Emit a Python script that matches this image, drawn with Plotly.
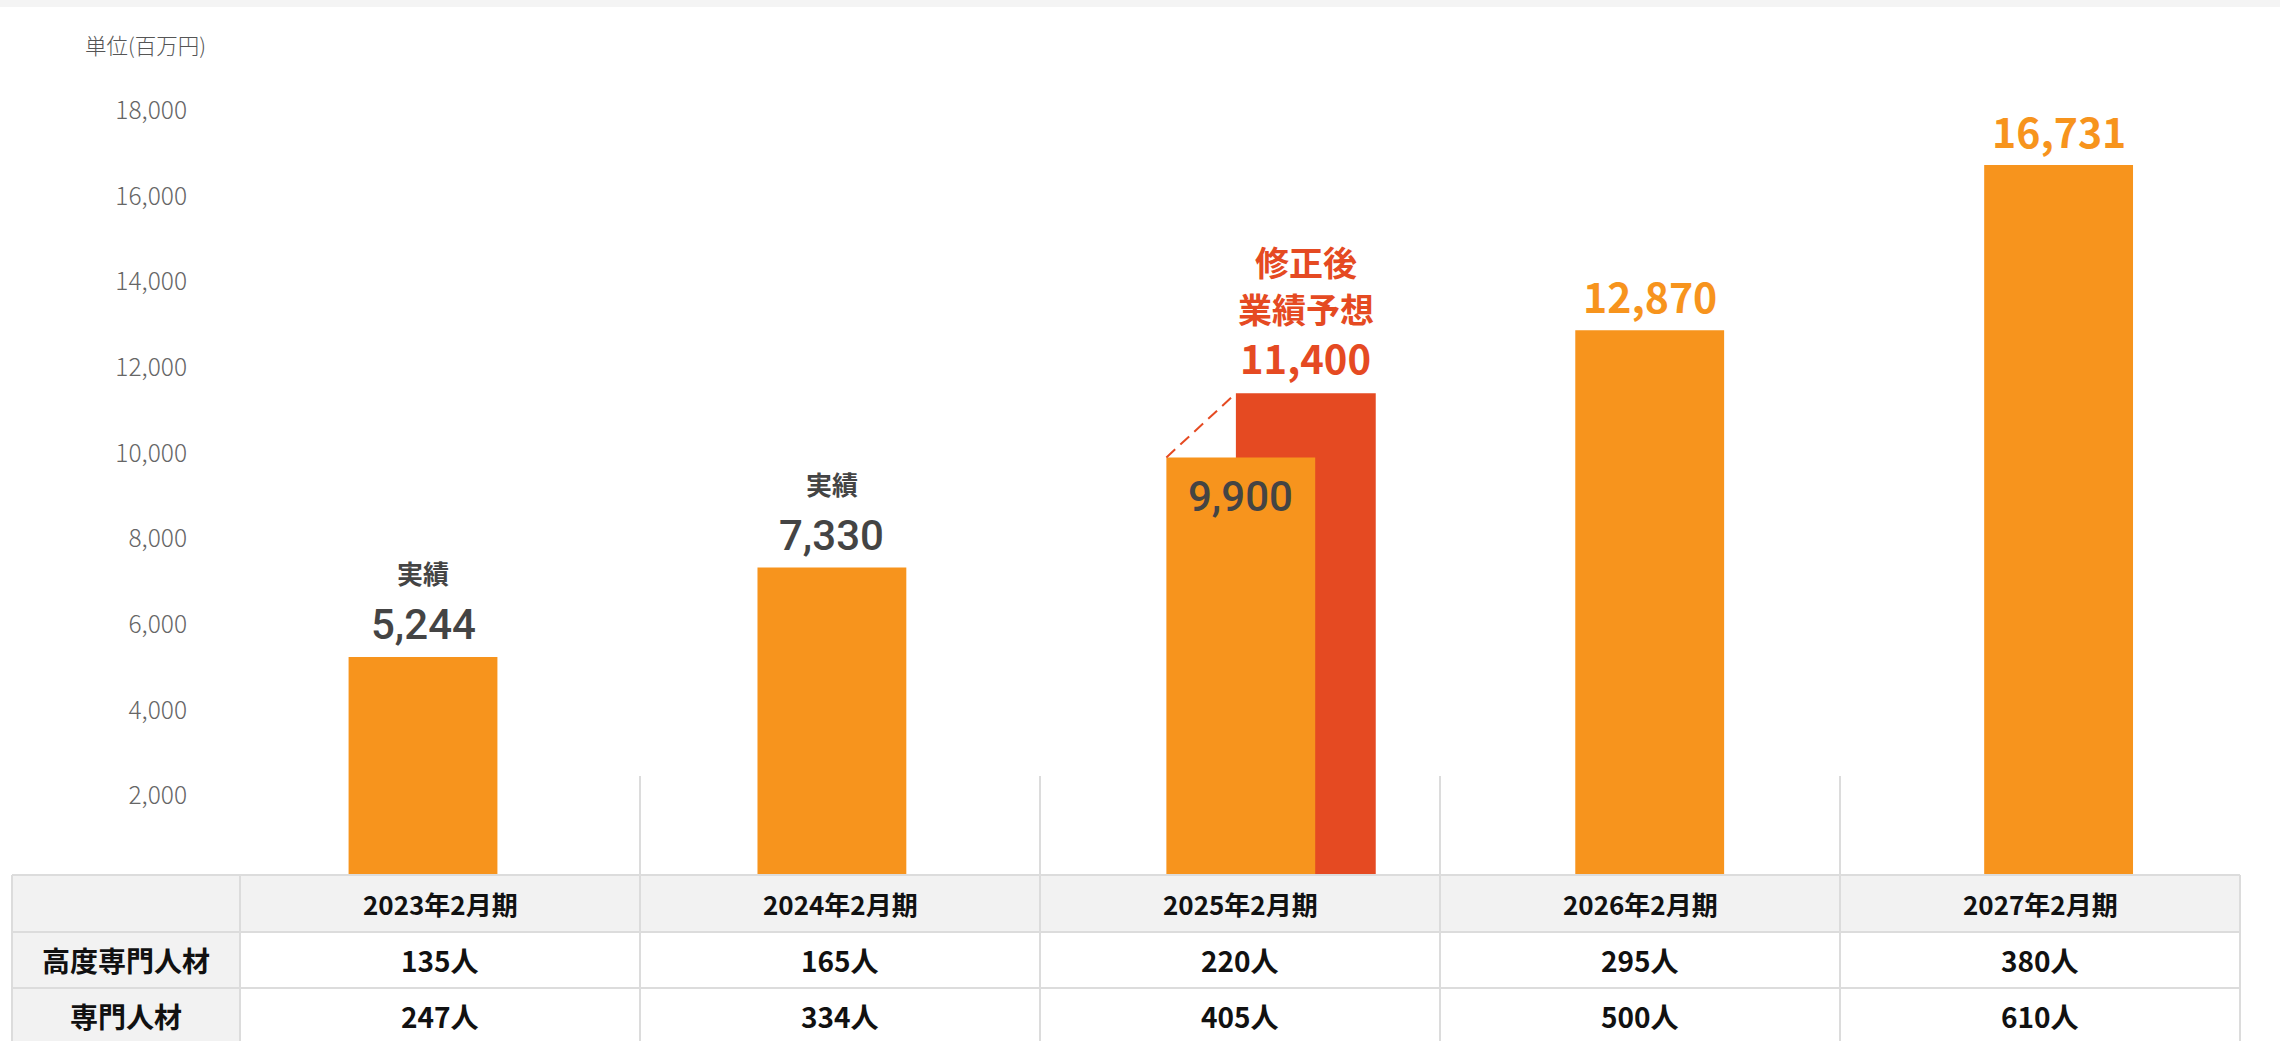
import plotly.graph_objects as go

# ---------------- data ----------------
categories = ["2023年2月期", "2024年2月期", "2025年2月期", "2026年2月期", "2027年2月期"]
revenue = [5244, 7330, 9900, 12870, 16731]
revised_category = "2025年2月期"
revised_value = 11400
status_labels = ["実績", "実績", "", "", ""]
revised_label_lines = ["修正後", "業績予想"]
row_labels = ["高度専門人材", "専門人材"]
high_spec_staff = [135, 165, 220, 295, 380]
spec_staff = [247, 334, 405, 500, 610]
y_ticks = [2000, 4000, 6000, 8000, 10000, 12000, 14000, 16000, 18000]
unit_label = "単位(百万円)"

# ---------------- style ----------------
W, H = 2280, 1041
ORANGE = "#F7941D"
RED = "#E54A22"
DARK = "#444444"
GRID = "#DCDCDC"
HEAD_BG = "#F2F2F2"
FONT = "Noto Sans CJK JP"
NUM_FONT = "Roboto"

BAR_W = 0.364
RED_W = 0.342
RED_SHIFT = 0.159

def X(p):
    return p / W

def Y(p):
    return 1 - p / H

xs = list(range(len(categories)))
ri = categories.index(revised_category)

fig = go.Figure()

# revised forecast bar (behind)
fig.add_trace(go.Bar(
    x=[ri + RED_SHIFT], y=[revised_value], width=[RED_W],
    marker=dict(color=RED, line=dict(width=0)), hoverinfo="skip", showlegend=False,
))
# main bars
fig.add_trace(go.Bar(
    x=xs, y=revenue, width=[BAR_W] * len(xs),
    marker=dict(color=ORANGE, line=dict(width=0)), hoverinfo="skip", showlegend=False,
))
# dashed connector between the original and revised forecast
fig.add_trace(go.Scatter(
    x=[ri - BAR_W / 2, ri + RED_SHIFT - RED_W / 2],
    y=[revenue[ri], revised_value],
    mode="lines", line=dict(color=RED, width=2, dash="12px,7px"),
    hoverinfo="skip", showlegend=False,
))

ann = []
for i, v in enumerate(revenue):
    if i == ri:
        ann.append(dict(x=i, y=v, xref="x", yref="y", text=f"{v:,}", showarrow=False,
                        yanchor="middle", yshift=-39,
                        font=dict(family=NUM_FONT, size=42, color=DARK, weight=500)))
    elif i < ri:
        ann.append(dict(x=i, y=v, xref="x", yref="y", text=f"{v:,}", showarrow=False,
                        yanchor="middle", yshift=32,
                        font=dict(family=NUM_FONT, size=42, color=DARK, weight=500)))
    else:
        ann.append(dict(x=i, y=v, xref="x", yref="y", text=f"{v:,}", showarrow=False,
                        yanchor="middle", yshift=35,
                        font=dict(family=FONT, size=41, color=ORANGE, weight="bold")))
    if status_labels[i]:
        ann.append(dict(x=i, y=v, xref="x", yref="y", text=status_labels[i], showarrow=False,
                        yanchor="middle", yshift=84,
                        font=dict(family=FONT, size=26, color=DARK, weight="bold")))

# revised forecast label: value plus two caption lines
ann.append(dict(x=ri + RED_SHIFT, y=revised_value, xref="x", yref="y", text=f"{revised_value:,}",
                showarrow=False, yanchor="middle", yshift=36, borderpad=0,
                font=dict(family=FONT, size=40, color=RED, weight="bold")))
for k, line in enumerate(revised_label_lines):
    ann.append(dict(x=ri + RED_SHIFT, y=revised_value, xref="x", yref="y", text=line,
                    showarrow=False, yanchor="middle", yshift=132 - 47 * k, borderpad=0,
                    font=dict(family=FONT, size=34, color=RED, weight="bold")))

ann.append(dict(x=X(145), y=Y(44), xref="paper", yref="paper", text=unit_label, showarrow=False,
                xanchor="center", yanchor="middle",
                font=dict(family=FONT, size=21.5, color="#555555", weight=300)))

# ---------------- table ----------------
col_x = [12, 240, 640, 1040, 1440, 1840, 2240]
row_y = [875, 932, 988, 1044]
shapes = []
shapes.append(dict(type="rect", xref="paper", yref="paper", x0=0, x1=1, y0=Y(7), y1=1,
                   fillcolor="#F4F4F4", line=dict(width=0), layer="above"))
shapes.append(dict(type="rect", xref="paper", yref="paper", x0=X(col_x[0]), x1=X(col_x[-1]),
                   y0=Y(row_y[1]), y1=Y(row_y[0]), fillcolor=HEAD_BG, line=dict(width=0), layer="above"))
shapes.append(dict(type="rect", xref="paper", yref="paper", x0=X(col_x[1]), x1=X(col_x[-1]),
                   y0=Y(row_y[-1]), y1=Y(row_y[1]), fillcolor="white", line=dict(width=0), layer="above"))
shapes.append(dict(type="rect", xref="paper", yref="paper", x0=X(col_x[0]), x1=X(col_x[1]),
                   y0=Y(row_y[-1]), y1=Y(row_y[1]), fillcolor=HEAD_BG, line=dict(width=0), layer="above"))
for yy in row_y:
    shapes.append(dict(type="line", xref="paper", yref="paper", x0=X(col_x[0]), x1=X(col_x[-1]),
                       y0=Y(yy), y1=Y(yy), line=dict(color=GRID, width=2), layer="above"))
for xx in col_x:
    shapes.append(dict(type="line", xref="paper", yref="paper", x0=X(xx), x1=X(xx),
                       y0=Y(row_y[-1]), y1=Y(row_y[0]), line=dict(color=GRID, width=2), layer="above"))
for xx in col_x[2:-1]:
    shapes.append(dict(type="line", xref="paper", yref="paper", x0=X(xx), x1=X(xx),
                       y0=Y(row_y[0]), y1=Y(776), line=dict(color=GRID, width=2), layer="above"))

def cell_center(c, r):
    return X((col_x[c] + col_x[c + 1]) / 2), Y((row_y[r] + row_y[r + 1]) / 2)

for j, cat in enumerate(categories):
    cx, cy = cell_center(j + 1, 0)
    ann.append(dict(x=cx, y=cy, xref="paper", yref="paper", text=cat, showarrow=False,
                    xanchor="center", yanchor="middle",
                    font=dict(family=FONT, size=26, color="#111111", weight="bold")))
for r, (lab, vals) in enumerate(zip(row_labels, [high_spec_staff, spec_staff])):
    cx, cy = cell_center(0, r + 1)
    ann.append(dict(x=cx, y=cy, xref="paper", yref="paper", text=lab, showarrow=False,
                    xanchor="center", yanchor="middle",
                    font=dict(family=FONT, size=28, color="#111111", weight="bold")))
    for j, v in enumerate(vals):
        cx, cy = cell_center(j + 1, r + 1)
        ann.append(dict(x=cx, y=cy, xref="paper", yref="paper", text=f"{v}人", showarrow=False,
                        xanchor="center", yanchor="middle",
                        font=dict(family=FONT, size=28, color="#111111", weight="bold")))

# ---------------- axes / layout ----------------
PX_PER_STEP = 408.9
C0 = 423
DOM_L = 200
PX_PER_UNIT = 0.04283
ZERO_PX = 881.5

fig.update_layout(
    width=W, height=H,
    margin=dict(l=0, r=0, t=0, b=0),
    paper_bgcolor="white", plot_bgcolor="white",
    barmode="overlay",
    showlegend=False,
    shapes=shapes,
    annotations=ann,
    xaxis=dict(domain=[DOM_L / W, 1], range=[(DOM_L - C0) / PX_PER_STEP, (W - C0) / PX_PER_STEP],
               showticklabels=False, showgrid=False, zeroline=False, showline=False, ticks=""),
    yaxis=dict(domain=[0, 1], range=[-(H - ZERO_PX) / PX_PER_UNIT, ZERO_PX / PX_PER_UNIT],
               tickvals=y_ticks, tickformat=",", ticks="", showgrid=False, zeroline=False,
               showline=False, ticklabelstandoff=12,
               tickfont=dict(family=FONT, size=24.5, color="#666666", weight=300)),
)

fig.write_html(
    "out.html",
    config={"displayModeBar": False},
    post_script="document.body.style.margin='0px';document.body.style.overflow='hidden';",
)
